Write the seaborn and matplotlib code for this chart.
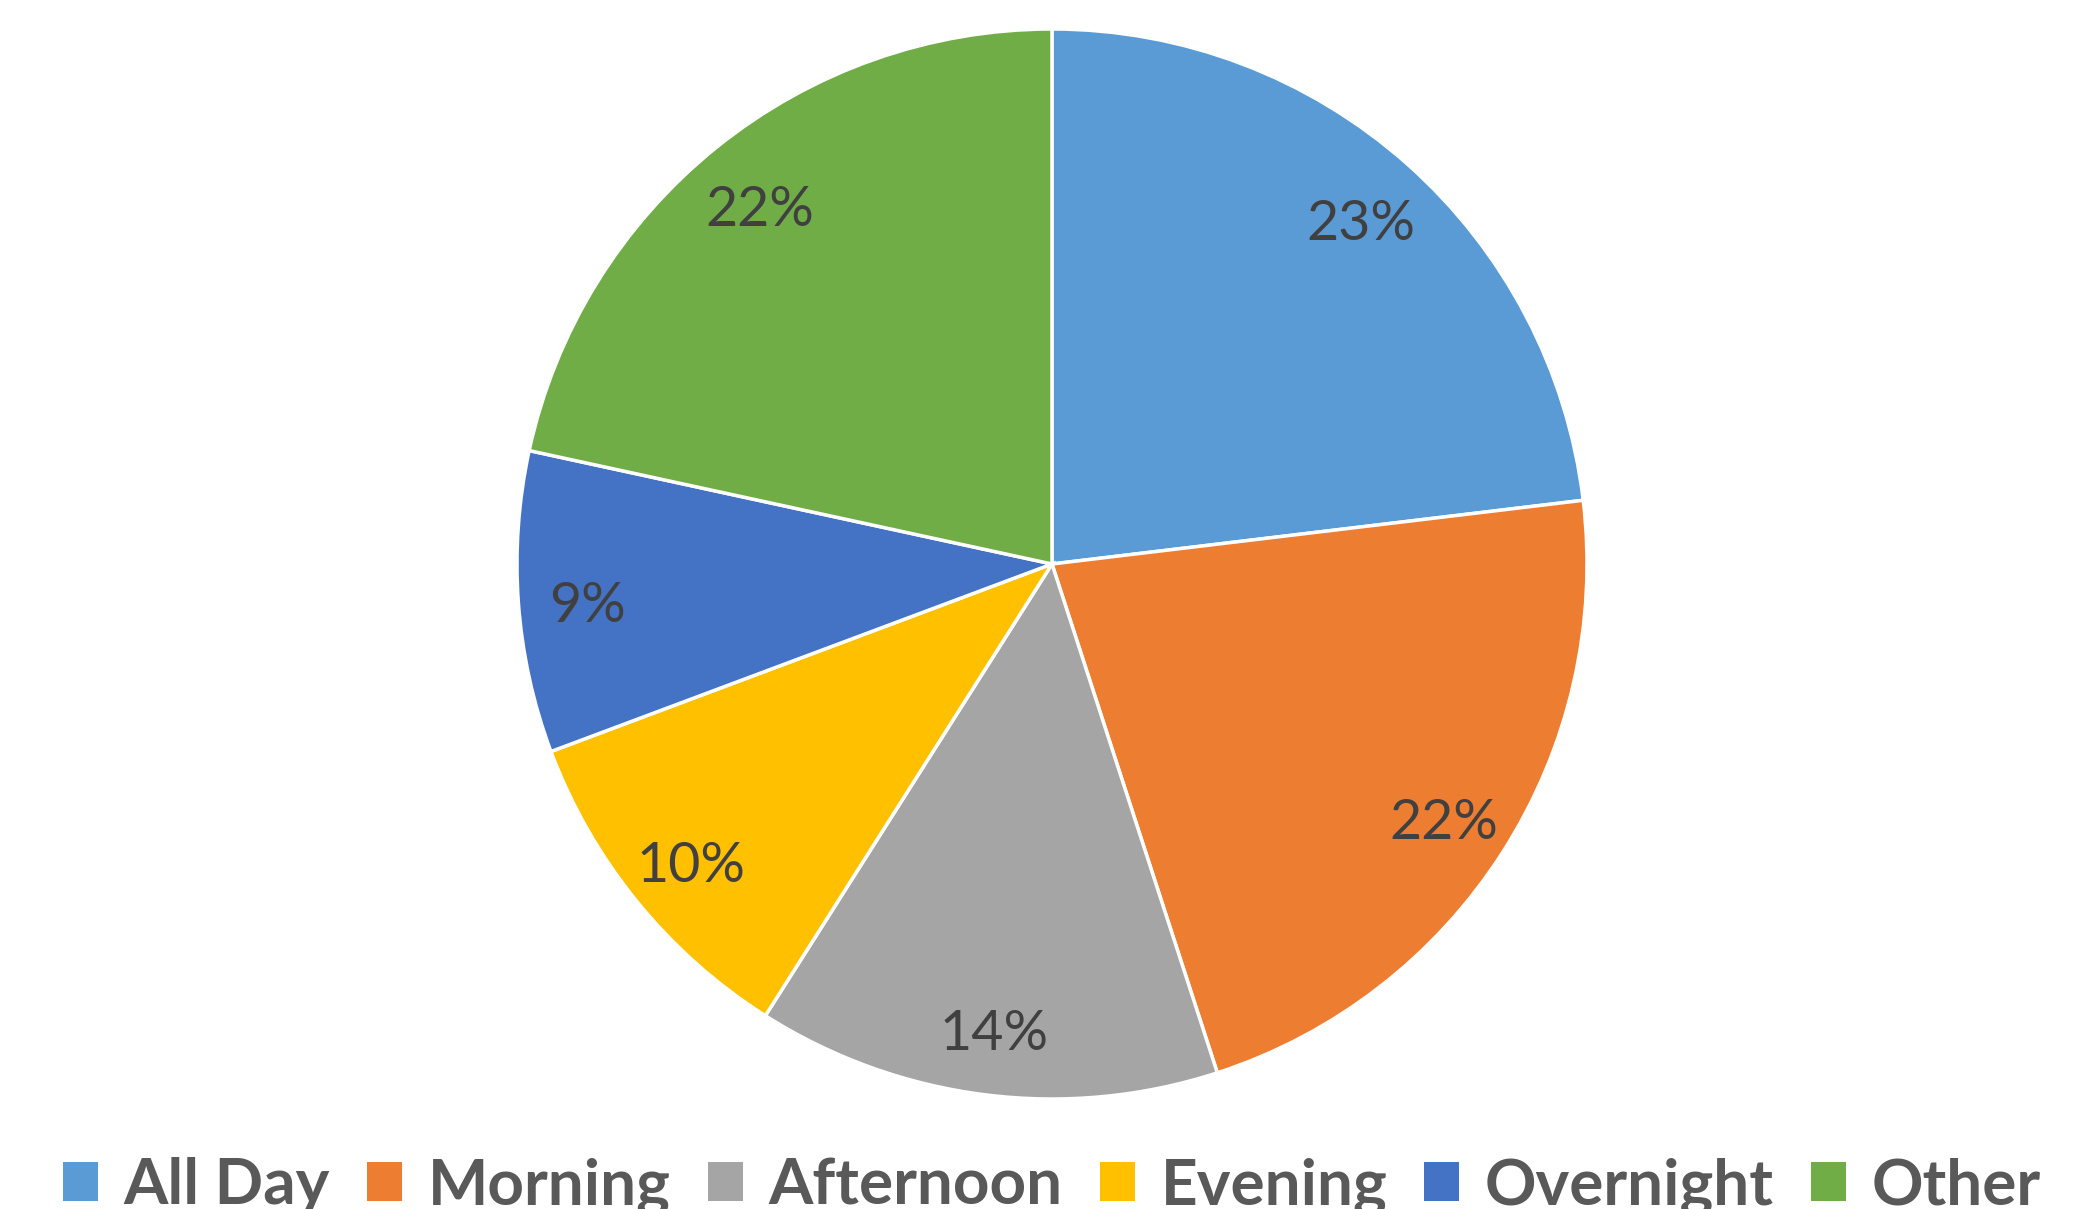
"""Pie chart of time-of-day shares."""
import matplotlib
matplotlib.use('Agg')
import matplotlib.pyplot as plt
from matplotlib.patches import Patch
import seaborn as sns

# data
categories = ['All Day', 'Morning', 'Afternoon', 'Evening', 'Overnight', 'Other']
shares = [23.1, 21.9, 14.0, 10.3, 9.1, 21.6]
colors = ['#5B9BD5', '#ED7D31', '#A5A5A5', '#FFC000', '#4472C4', '#70AD47']

sns.set_style('white')
plt.rcParams['font.family'] = ['Lato', 'DejaVu Sans']

fig = plt.figure(figsize=(20.86, 12.09), dpi=100)
ax = fig.add_axes([0, 0, 1, 1])

# pie drawn in pixel-like data coords (y measured from the bottom)
wedges, texts, autotexts = ax.pie(
    shares, colors=colors, startangle=90, counterclock=False,
    center=(1052, 645), radius=535,
    autopct=lambda p: f'{p:.0f}%', pctdistance=0.87,
    wedgeprops=dict(edgecolor='white', linewidth=2.5),
    textprops=dict(fontsize=40, color='#404040'))
for t in autotexts:
    x, y = t.get_position()
    t.set_position((x, y - 9))
ax.set_xlim(0, 2086)
ax.set_ylim(0, 1209)
ax.set_aspect('equal')
ax.axis('off')

handles = [Patch(facecolor=c, edgecolor='none') for c in colors]
leg = fig.legend(handles, categories, ncol=6, loc='lower left',
                 bbox_to_anchor=(0.018, -0.027), frameon=False,
                 prop=dict(size=46, weight='bold'),
                 handlelength=0.55, handleheight=0.55, handletextpad=0.4,
                 columnspacing=0.58, borderaxespad=0)
for t in leg.get_texts():
    t.set_color('#595959')

fig.savefig('out.png', dpi=100)
